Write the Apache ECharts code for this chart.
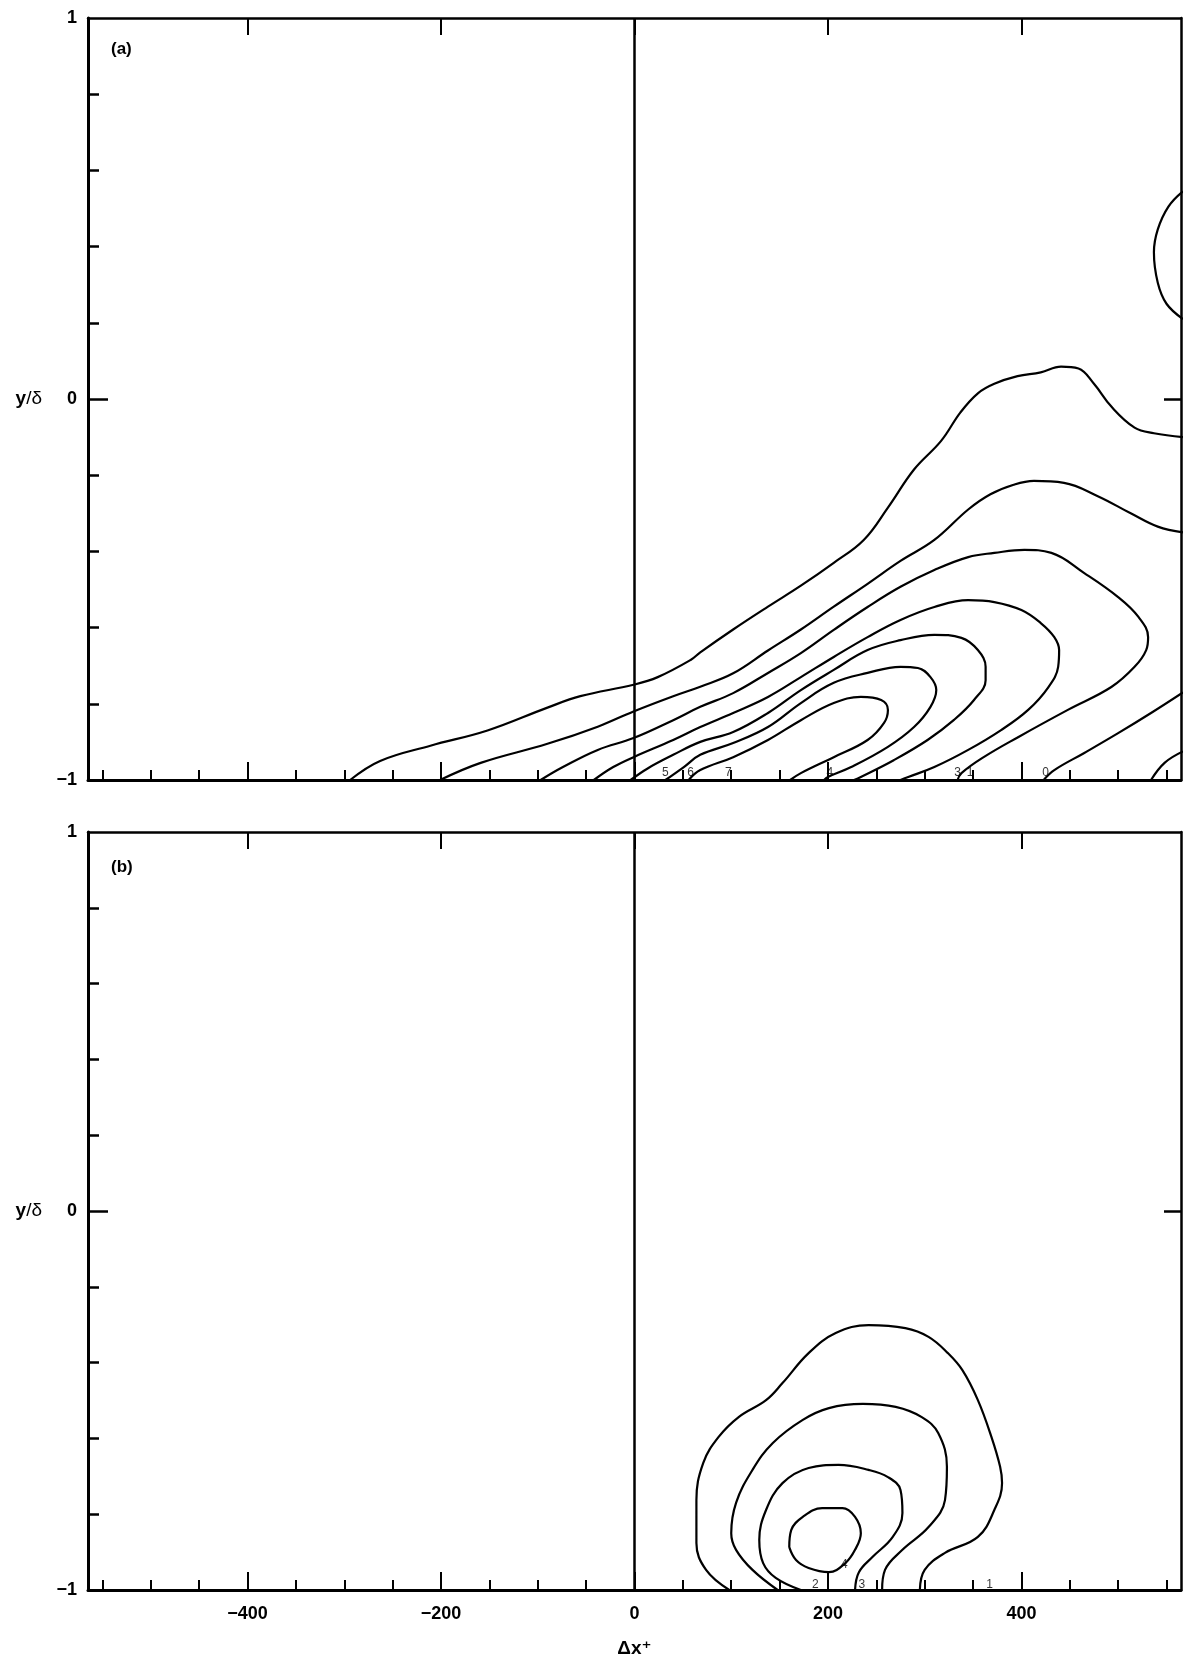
<!DOCTYPE html>
<html>
<head>
<meta charset="utf-8">
<title>contours</title>
<script src="https://cdn.jsdelivr.net/npm/echarts@6/dist/echarts.min.js"></script>
<style>
  html, body { margin: 0; padding: 0; background: #fff; }
  #chart { width: 1190px; height: 1662px; }
</style>
</head>
<body>
<div id="chart"></div>
<script>
// axis ticks / labels
var xMinorTicks = [-550, -500, -450, -400, -350, -300, -250, -200, -150, -100, -50, 0,
  50, 100, 150, 200, 250, 300, 350, 400, 450, 500, 550];
var xMajorTicks = [-400, -200, 0, 200, 400];
var xLabels = [-400, -200, 0, 200, 400];
var yMinorTicks = [-0.8, -0.6, -0.4, -0.2, 0.2, 0.4, 0.6, 0.8];
var yMajorTicks = [0];
var yLabels = [-1, 0, 1];

// panel (a) contours  [dx+, y/delta]
var a_outer = [[-294, -1], [-263, -0.95], [-211, -0.91], [-152, -0.87], [-90, -0.81], [-56, -0.78],
  [-1, -0.75], [24, -0.73], [58, -0.685], [68, -0.665], [102, -0.605], [138, -0.545], [172, -0.49],
  [206, -0.43], [237, -0.37], [262, -0.285], [289, -0.185], [317, -0.11], [337, -0.035], [355, 0.015],
  [372, 0.04], [396, 0.06], [420, 0.07], [441, 0.085], [459, 0.08], [475, 0.04], [493, -0.02],
  [517, -0.075], [537, -0.09], [567, -0.1]];
var a_top = [[567, 0.545], [552, 0.505], [541, 0.445], [537, 0.385], [541, 0.305], [550, 0.25], [567, 0.21]];
var a_second = [[-201, -1], [-159, -0.955], [-90, -0.905], [-38, -0.86], [-1, -0.82], [40, -0.78],
  [68, -0.755], [102, -0.72], [138, -0.66], [172, -0.605], [206, -0.545], [241, -0.485], [275, -0.425],
  [310, -0.37], [345, -0.29], [368, -0.25], [392, -0.225], [413, -0.215], [444, -0.22], [479, -0.255],
  [513, -0.3], [541, -0.335], [567, -0.35]];
var a_u1 = [[-97, -1], [-74, -0.966], [-38, -0.921], [-1, -0.89], [40, -0.843], [68, -0.808],
  [102, -0.772], [138, -0.719], [172, -0.667], [206, -0.606], [241, -0.546], [275, -0.493],
  [310, -0.449], [345, -0.415], [372, -0.404], [403, -0.396], [431, -0.404], [465, -0.457],
  [500, -0.52], [521, -0.572], [531, -0.625], [529, -0.659], [517, -0.703], [493, -0.756],
  [448, -0.816], [397, -0.887], [361, -0.94], [338, -0.982], [334, -1]];
var a_u2 = [[-42, -1], [-22, -0.966], [-1, -0.94], [40, -0.895], [68, -0.861], [102, -0.824],
  [138, -0.782], [172, -0.73], [206, -0.677], [241, -0.625], [275, -0.58], [310, -0.546],
  [345, -0.528], [372, -0.533], [400, -0.554], [420, -0.588], [434, -0.625], [439, -0.659],
  [438, -0.703], [428, -0.756], [407, -0.816], [379, -0.869], [345, -0.921], [310, -0.966],
  [283, -0.992], [275, -1]];
var a_u3 = [[-4, -1], [14, -0.969], [40, -0.934], [68, -0.9], [102, -0.874], [138, -0.824],
  [172, -0.764], [206, -0.711], [241, -0.659], [275, -0.633], [310, -0.619], [338, -0.627],
  [355, -0.659], [363, -0.703], [363, -0.738], [351, -0.79], [330, -0.843], [303, -0.895],
  [268, -0.948], [234, -0.992], [227, -1]];
var a_u4 = [[32, -1], [51, -0.966], [68, -0.934], [102, -0.903], [138, -0.861], [172, -0.798],
  [206, -0.745], [241, -0.719], [275, -0.703], [293, -0.706], [306, -0.73], [312, -0.764],
  [306, -0.808], [289, -0.861], [262, -0.913], [224, -0.966], [200, -0.992], [196, -1]];
var a_u5 = [[56, -1], [68, -0.974], [102, -0.94], [138, -0.895], [172, -0.843], [206, -0.798],
  [234, -0.782], [255, -0.79], [262, -0.816], [258, -0.85], [241, -0.895], [206, -0.94],
  [172, -0.982], [161, -1]];
var a_zero = [[423, -1], [434, -0.974], [465, -0.929], [500, -0.877], [534, -0.824], [567, -0.77]];
var a_corner = [[534, -1], [548, -0.955], [567, -0.925]];
var a_labels = [[32, -0.982, '5'], [58, -0.982, '6'], [97, -0.982, '7'], [202, -0.982, '4'],
  [334, -0.982, '3'], [347, -0.982, '1'], [425, -0.982, '0']];

// panel (b) contours
var b_c1 = [[98, -1], [74, -0.947], [64, -0.876], [64, -0.763], [71, -0.665], [87, -0.596],
  [108, -0.543], [136, -0.499], [153, -0.454], [180, -0.375], [208, -0.322], [242, -0.301],
  [280, -0.309], [304, -0.332], [324, -0.375], [339, -0.42], [355, -0.499], [369, -0.596],
  [378, -0.675], [380, -0.718], [372, -0.789], [355, -0.86], [321, -0.902], [300, -0.947], [295, -1]];
var b_c2 = [[148, -1], [122, -0.947], [105, -0.894], [100, -0.85], [105, -0.77], [122, -0.683],
  [143, -0.612], [174, -0.551], [201, -0.52], [236, -0.509], [270, -0.517], [297, -0.544],
  [314, -0.586], [323, -0.675], [321, -0.763], [304, -0.834], [277, -0.894], [259, -0.947], [256, -1]];
var b_c3 = [[172, -1], [146, -0.968], [133, -0.929], [129, -0.868], [136, -0.789], [153, -0.718],
  [180, -0.678], [211, -0.67], [242, -0.683], [262, -0.702], [275, -0.736], [277, -0.797],
  [267, -0.86], [246, -0.913], [232, -0.953], [228, -1]];
var b_c4 = [[160, -0.887], [162, -0.842], [174, -0.807], [194, -0.784], [215, -0.784], [228, -0.807],
  [234, -0.85], [228, -0.894], [218, -0.929], [201, -0.953], [180, -0.942], [167, -0.921], [160, -0.887]];
var b_labels = [[187, -0.985, '2'], [235, -0.985, '3'], [217, -0.934, '4'], [367, -0.985, '1']];

var FONT = '"Liberation Sans", Arial, "DejaVu Sans", sans-serif';
var X_MIN = -565, X_MAX = 565;

function minus(v) { return v < 0 ? '\u2212' + Math.abs(v) : String(v); }

function xAxes(g, withLabels) {
  return [{
    gridIndex: g, type: 'value', min: X_MIN, max: X_MAX, position: 'bottom',
    axisLine: { show: true, onZero: false, lineStyle: { color: '#000', width: 3 } },
    axisTick: { show: true, inside: true, length: 10, customValues: xMinorTicks, lineStyle: { color: '#000', width: 2 } },
    axisLabel: { show: false }, splitLine: { show: false }
  }, {
    gridIndex: g, type: 'value', min: X_MIN, max: X_MAX, position: 'bottom',
    axisLine: { show: false, onZero: false },
    axisTick: { show: true, inside: true, length: 18, customValues: xMajorTicks, lineStyle: { color: '#000', width: 2 } },
    axisLabel: {
      show: withLabels, customValues: xLabels, formatter: minus, margin: 15,
      color: '#000', fontFamily: FONT, fontWeight: 'bold', fontSize: 18
    },
    splitLine: { show: false },
    name: withLabels ? 'Δx⁺' : '', nameLocation: 'middle', nameGap: 49,
    nameTextStyle: { color: '#000', fontFamily: FONT, fontWeight: 'bold', fontSize: 19 }
  }, {
    gridIndex: g, type: 'value', min: X_MIN, max: X_MAX, position: 'top',
    axisLine: { show: true, onZero: false, lineStyle: { color: '#000', width: 2.5 } },
    axisTick: { show: true, inside: true, length: 17, customValues: xMajorTicks, lineStyle: { color: '#000', width: 2 } },
    axisLabel: { show: false }, splitLine: { show: false }
  }];
}

function yAxes(g) {
  return [{
    gridIndex: g, type: 'value', min: -1, max: 1, position: 'left',
    axisLine: { show: true, onZero: false, lineStyle: { color: '#000', width: 3 } },
    axisTick: { show: true, inside: true, length: 11, customValues: yMinorTicks, lineStyle: { color: '#000', width: 2.5 } },
    axisLabel: {
      show: true, customValues: yLabels, margin: 11,
      formatter: function (v) { return minus(Math.round(v)); },
      color: '#000', fontFamily: FONT, fontWeight: 'bold', fontSize: 18
    },
    splitLine: { show: false },
    name: '{y|y}{d|/δ}', nameLocation: 'middle', nameRotate: 0, nameGap: 46,
    nameTextStyle: {
      rich: {
        y: { color: '#000', fontFamily: FONT, fontWeight: 'bold', fontSize: 19 },
        d: { color: '#000', fontFamily: FONT, fontSize: 19 }
      }
    }
  }, {
    gridIndex: g, type: 'value', min: -1, max: 1, position: 'left',
    axisLine: { show: false, onZero: false },
    axisTick: { show: true, inside: true, length: 20, customValues: yMajorTicks, lineStyle: { color: '#000', width: 2.5 } },
    axisLabel: { show: false }, splitLine: { show: false }
  }, {
    gridIndex: g, type: 'value', min: -1, max: 1, position: 'right',
    axisLine: { show: true, onZero: false, lineStyle: { color: '#000', width: 2.5 } },
    axisTick: { show: true, inside: true, length: 17, customValues: yMajorTicks, lineStyle: { color: '#000', width: 2.5 } },
    axisLabel: { show: false }, splitLine: { show: false }
  }];
}

function contour(g, data) {
  return {
    type: 'line', xAxisIndex: g * 3, yAxisIndex: g * 3, data: data,
    showSymbol: false, symbol: 'none', smooth: 0.4, silent: true,
    lineStyle: { color: '#000', width: 2.2 }
  };
}

function zeroLine(g) {
  return {
    type: 'line', xAxisIndex: g * 3, yAxisIndex: g * 3, data: [], silent: true,
    markLine: {
      silent: true, symbol: 'none', label: { show: false },
      lineStyle: { type: 'solid', color: '#000', width: 2.5 },
      data: [{ xAxis: 0 }]
    }
  };
}

function labelSeries(g, data) {
  return {
    type: 'scatter', xAxisIndex: g * 3, yAxisIndex: g * 3, data: data,
    symbolSize: 0, silent: true,
    label: {
      show: true, position: 'inside', color: '#000', fontFamily: FONT, fontSize: 12,
      formatter: function (p) { return p.value[2]; }
    }
  };
}

var contoursA = [a_outer, a_top, a_second, a_u1, a_u2, a_u3, a_u4, a_u5, a_zero, a_corner];
var contoursB = [b_c1, b_c2, b_c3, b_c4];

var series = [zeroLine(0), zeroLine(1)];
contoursA.forEach(function (d) { series.push(contour(0, d)); });
contoursB.forEach(function (d) { series.push(contour(1, d)); });
series.push(labelSeries(0, a_labels));
series.push(labelSeries(1, b_labels));

var chart = echarts.init(document.getElementById('chart'), null, { renderer: 'canvas' });
chart.setOption({
  backgroundColor: '#fff',
  animation: false,
  title: [
    { text: '(a)', left: 106, top: 36, textStyle: { color: '#000', fontFamily: FONT, fontWeight: 'bold', fontSize: 17 } },
    { text: '(b)', left: 106, top: 854, textStyle: { color: '#000', fontFamily: FONT, fontWeight: 'bold', fontSize: 17 } }
  ],
  grid: [
    { left: 88, top: 18, width: 1093, height: 762 },
    { left: 88, top: 832, width: 1093, height: 758 }
  ],
  xAxis: xAxes(0, false).concat(xAxes(1, true)),
  yAxis: yAxes(0).concat(yAxes(1)),
  series: series
});
</script>
</body>
</html>
